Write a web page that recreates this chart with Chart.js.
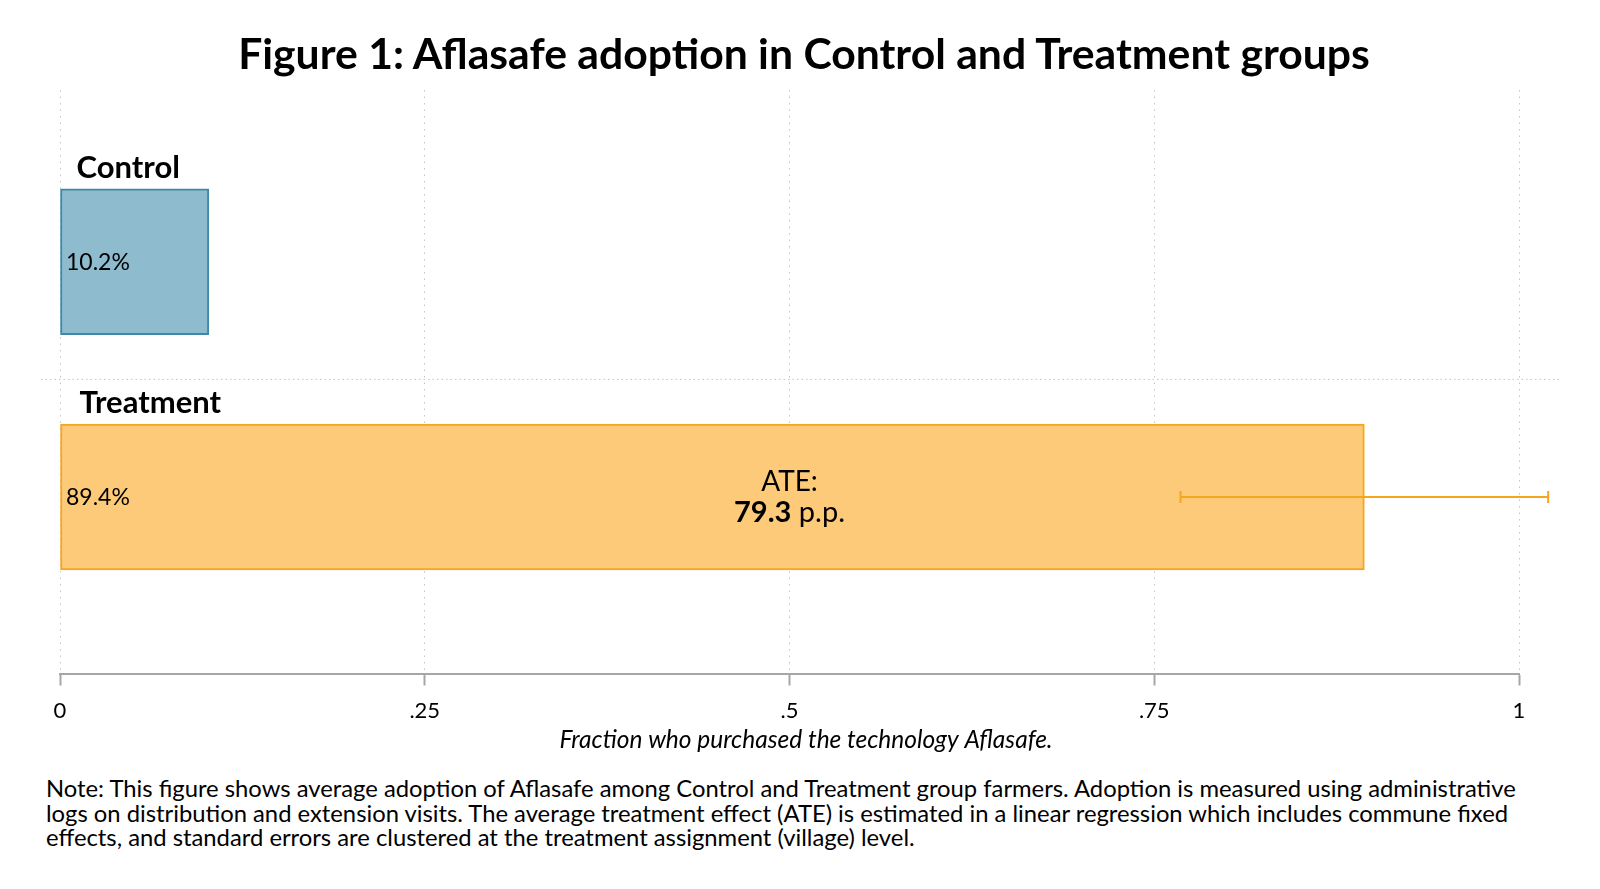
<!DOCTYPE html>
<html>
<head>
<meta charset="utf-8">
<script src="https://cdn.jsdelivr.net/npm/chart.js@4.4.1/dist/chart.umd.min.js"></script>
<style>
  body { margin: 0; background: #fff; }
  #wrap { position: relative; width: 1600px; height: 889px; font-family: Lato, sans-serif; color: #000; }
  #title { position: absolute; left: 0; width: 1608px; top: 27px; margin: 0; text-align: center; font-weight: bold; font-size: 42.7px; line-height: 52px; }
  #chart { position: absolute; left: 0; top: 0; }
  #note { position: absolute; left: 46px; top: 776px; font-size: 23.8px; line-height: 24.5px; white-space: nowrap; }
</style>
</head>
<body>
<div id="wrap">
  <canvas id="chart" width="1600" height="760"></canvas>
  <h1 id="title">Figure 1: Aflasafe adoption in Control and Treatment groups</h1>
  <div id="note">
    Note: This figure shows average adoption of Aflasafe among Control and Treatment group farmers. Adoption is measured using administrative<br>
    logs on distribution and extension visits. The average treatment effect (ATE) is estimated in a linear regression which includes commune fixed<br>
    effects, and standard errors are clustered at the treatment assignment (village) level.
  </div>
</div>
<script>
// --------------------- DATA ---------------------
const groups = ["Control", "Treatment"];
const groupPos = [1, 2];              // position of each group on the (hidden) y scale
const adoption = [0.102, 0.894];      // share who purchased Aflasafe
const ciLow = [null, 0.768];          // confidence interval drawn on the Treatment bar
const ciHigh = [null, 1.02];
const ateValue = 79.3;                // p.p.
const xTicks = [0, 0.25, 0.5, 0.75, 1];
const xTickLabels = ["0", ".25", ".5", ".75", "1"];

const fillColors = ["#8fbbcf", "#fdca79"];
const lineColors = ["#3e89a9", "#f6a51f"];
const labelIndent = [16.5, 19.5];
const FONT = "Lato";

// --------------------- EXTRA DRAWING ---------------------
const annotate = {
  id: "annotate",
  beforeDatasetsDraw(chart) {
    const { ctx, chartArea, scales: { y } } = chart;
    // dotted separator between the two groups
    const ySep = y.getPixelForValue((groupPos[0] + groupPos[1]) / 2);
    ctx.save();
    ctx.strokeStyle = "#c4c4c4";
    ctx.lineWidth = 1;
    ctx.setLineDash([1.5, 3]);
    ctx.beginPath();
    ctx.moveTo(chartArea.left - 19, ySep);
    ctx.lineTo(chartArea.right + 42, ySep);
    ctx.stroke();
    ctx.restore();
  },
  afterDatasetsDraw(chart) {
    const { ctx, chartArea, scales: { x, y } } = chart;
    ctx.save();
    ctx.fillStyle = "#000";
    ctx.textAlign = "left";
    ctx.textBaseline = "middle";

    groups.forEach((g, i) => {
      const yc = y.getPixelForValue(groupPos[i]);
      ctx.font = "bold 31px " + FONT;
      ctx.fillText(g, chartArea.left + labelIndent[i], yc - 94);
      ctx.font = "23px " + FONT;
      ctx.fillText((adoption[i] * 100).toFixed(1) + "%", chartArea.left + 6, yc + 1);

      // confidence interval
      if (ciLow[i] !== null) {
        const x1 = x.getPixelForValue(ciLow[i]);
        const x2 = x.getPixelForValue(ciHigh[i]);
        ctx.strokeStyle = lineColors[i];
        ctx.lineWidth = 2;
        ctx.beginPath();
        ctx.moveTo(x1, yc); ctx.lineTo(x2, yc);
        ctx.moveTo(x1, yc - 6); ctx.lineTo(x1, yc + 6);
        ctx.moveTo(x2, yc - 6); ctx.lineTo(x2, yc + 6);
        ctx.stroke();
      }
    });

    // ATE label in the middle of the Treatment bar
    const cx = (chartArea.left + chartArea.right) / 2;
    const yT = y.getPixelForValue(groupPos[1]);
    ctx.textAlign = "center";
    ctx.font = "28px " + FONT;
    ctx.fillText("ATE:", cx, yT - 15);
    const boldPart = ateValue.toFixed(1);
    const restPart = " p.p.";
    ctx.font = "bold 29px " + FONT;
    const wB = ctx.measureText(boldPart).width;
    ctx.font = "29px " + FONT;
    const wR = ctx.measureText(restPart).width;
    const startX = cx - (wB + wR) / 2;
    ctx.textAlign = "left";
    ctx.font = "bold 29px " + FONT;
    ctx.fillText(boldPart, startX, yT + 16);
    ctx.font = "29px " + FONT;
    ctx.fillText(restPart, startX + wB, yT + 16);

    // x axis title
    ctx.textAlign = "center";
    ctx.font = "italic 24.5px " + FONT;
    ctx.fillText("Fraction who purchased the technology Aflasafe.", cx + 16.5, chartArea.bottom + 66.5);
    ctx.restore();
  }
};

// --------------------- CHART ---------------------
new Chart(document.getElementById("chart"), {
  type: "bar",
  data: {
    datasets: [{
      data: groups.map((g, i) => ({ x: adoption[i], y: groupPos[i] })),
      backgroundColor: fillColors,
      borderColor: lineColors,
      borderWidth: 2,
      borderSkipped: false,
      barThickness: 146,
    }],
  },
  options: {
    indexAxis: "y",
    responsive: false,
    animation: false,
    layout: { padding: { top: 90, left: 60, right: 81, bottom: 26.5 } },
    plugins: { legend: { display: false }, tooltip: { enabled: false } },
    scales: {
      y: {
        type: "linear",
        reverse: true,
        offset: false,
        min: 0.27,
        max: 2.75,
        display: false,
      },
      x: {
        type: "linear",
        min: 0,
        max: 1,
        afterBuildTicks: (scale) => { scale.ticks = xTicks.map((v) => ({ value: v })); },
        afterFit: (scale) => { scale.height = 60; },
        ticks: {
          padding: 12,
          color: "#000",
          font: { family: FONT, size: 22 },
          callback: (v) => xTickLabels[xTicks.indexOf(v)],
          maxRotation: 0,
        },
        grid: {
          color: "#c4c4c4",
          lineWidth: 1,
          tickLength: 12,
          tickColor: "#a6a6a6",
          tickWidth: 2,
          tickBorderDash: [],
        },
        border: { display: true, color: "#a6a6a6", width: 2, dash: [1.5, 5] },
      },
    },
  },
  plugins: [annotate],
});
</script>
</body>
</html>
